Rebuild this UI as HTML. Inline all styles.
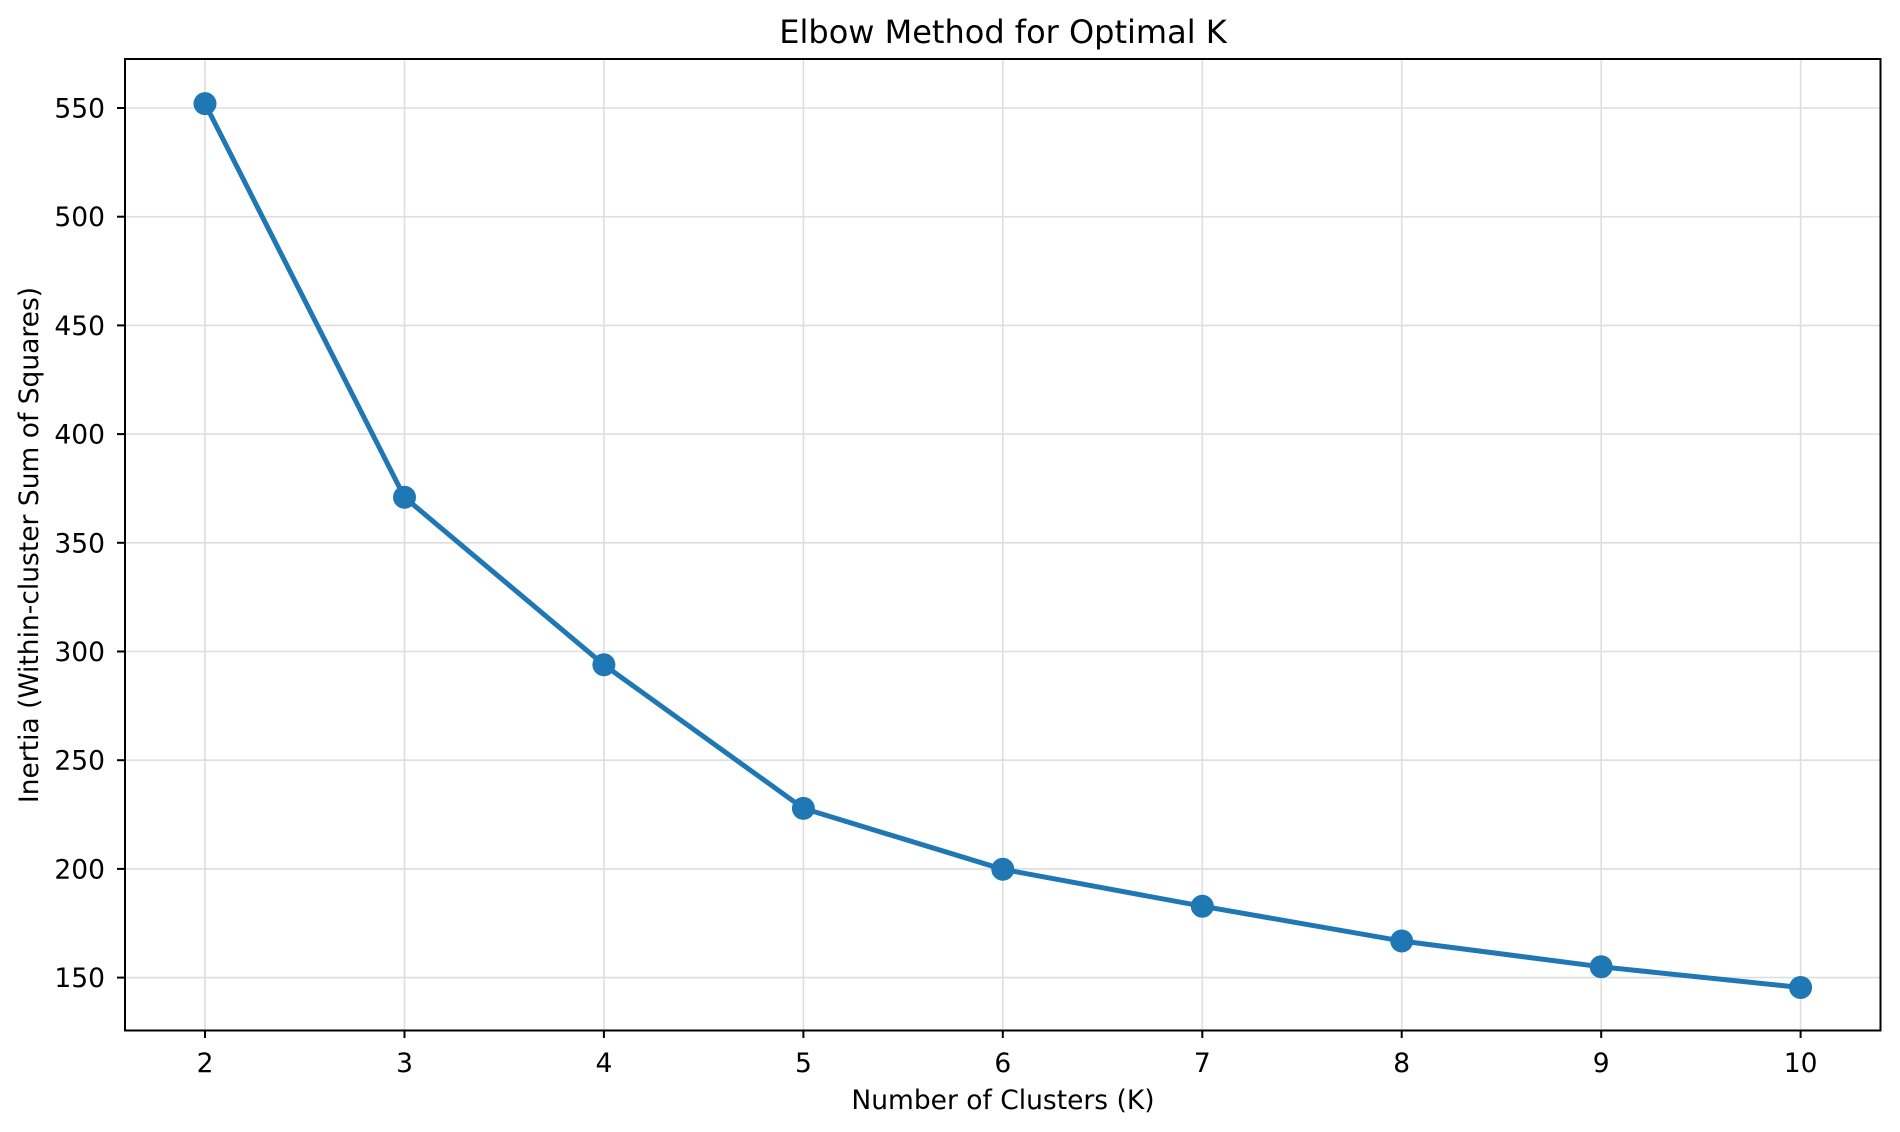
<!DOCTYPE html>
<html><head><meta charset="utf-8"><style>
html,body{margin:0;padding:0;background:#fff;}
svg{display:block;}
text{font-family:"DejaVu Sans","Liberation Sans",sans-serif;fill:#000;}
</style></head><body>
<svg width="1900" height="1132" viewBox="0 0 1900 1132" xmlns="http://www.w3.org/2000/svg">
<rect width="1900" height="1132" fill="#fff"/>
<g stroke="#dedede" stroke-width="1.6">
<line x1="205" y1="59" x2="205" y2="1030"/>
<line x1="404.5" y1="59" x2="404.5" y2="1030"/>
<line x1="603.9" y1="59" x2="603.9" y2="1030"/>
<line x1="803.4" y1="59" x2="803.4" y2="1030"/>
<line x1="1002.8" y1="59" x2="1002.8" y2="1030"/>
<line x1="1202.3" y1="59" x2="1202.3" y2="1030"/>
<line x1="1401.7" y1="59" x2="1401.7" y2="1030"/>
<line x1="1601.2" y1="59" x2="1601.2" y2="1030"/>
<line x1="1800.6" y1="59" x2="1800.6" y2="1030"/>
<line x1="125" y1="108" x2="1881" y2="108"/>
<line x1="125" y1="216.7" x2="1881" y2="216.7"/>
<line x1="125" y1="325.4" x2="1881" y2="325.4"/>
<line x1="125" y1="434.1" x2="1881" y2="434.1"/>
<line x1="125" y1="542.8" x2="1881" y2="542.8"/>
<line x1="125" y1="651.5" x2="1881" y2="651.5"/>
<line x1="125" y1="760.2" x2="1881" y2="760.2"/>
<line x1="125" y1="868.9" x2="1881" y2="868.9"/>
<line x1="125" y1="977.6" x2="1881" y2="977.6"/>
</g>
<polyline fill="none" stroke="#1f77b4" stroke-width="5" stroke-linejoin="round" points="205,103.6 404.5,497.3 603.9,664.8 803.4,808.4 1002.8,869.3 1202.3,906.2 1401.7,941 1601.2,966.8 1800.6,987.5"/>
<g fill="#1f77b4">
<circle cx="205" cy="103.6" r="11.5"/><circle cx="404.5" cy="497.3" r="11.5"/><circle cx="603.9" cy="664.8" r="11.5"/><circle cx="803.4" cy="808.4" r="11.5"/><circle cx="1002.8" cy="869.3" r="11.5"/><circle cx="1202.3" cy="906.2" r="11.5"/><circle cx="1401.7" cy="941" r="11.5"/><circle cx="1601.2" cy="966.8" r="11.5"/><circle cx="1800.6" cy="987.5" r="11.5"/>
</g>
<rect x="125" y="59" width="1755.5" height="971.5" fill="none" stroke="#000" stroke-width="2"/>
<g stroke="#000" stroke-width="2">
<line x1="205" y1="1030" x2="205" y2="1038"/><line x1="404.5" y1="1030" x2="404.5" y2="1038"/><line x1="603.9" y1="1030" x2="603.9" y2="1038"/><line x1="803.4" y1="1030" x2="803.4" y2="1038"/><line x1="1002.8" y1="1030" x2="1002.8" y2="1038"/><line x1="1202.3" y1="1030" x2="1202.3" y2="1038"/><line x1="1401.7" y1="1030" x2="1401.7" y2="1038"/><line x1="1601.2" y1="1030" x2="1601.2" y2="1038"/><line x1="1800.6" y1="1030" x2="1800.6" y2="1038"/>
<line x1="117" y1="108" x2="125" y2="108"/><line x1="117" y1="216.7" x2="125" y2="216.7"/><line x1="117" y1="325.4" x2="125" y2="325.4"/><line x1="117" y1="434.1" x2="125" y2="434.1"/><line x1="117" y1="542.8" x2="125" y2="542.8"/><line x1="117" y1="651.5" x2="125" y2="651.5"/><line x1="117" y1="760.2" x2="125" y2="760.2"/><line x1="117" y1="868.9" x2="125" y2="868.9"/><line x1="117" y1="977.6" x2="125" y2="977.6"/>
</g>
<g font-size="26.5" text-anchor="middle">
<text x="205" y="1072">2</text><text x="404.5" y="1072">3</text><text x="603.9" y="1072">4</text><text x="803.4" y="1072">5</text><text x="1002.8" y="1072">6</text><text x="1202.3" y="1072">7</text><text x="1401.7" y="1072">8</text><text x="1601.2" y="1072">9</text><text x="1800.6" y="1072">10</text>
</g>
<g font-size="26.5" text-anchor="end">
<text x="105" y="117.5">550</text><text x="105" y="226.2">500</text><text x="105" y="334.9">450</text><text x="105" y="443.6">400</text><text x="105" y="552.3">350</text><text x="105" y="661">300</text><text x="105" y="769.7">250</text><text x="105" y="878.4">200</text><text x="105" y="987.1">150</text>
</g>
<text x="1003" y="1109" font-size="26.5" text-anchor="middle">Number of Clusters (K)</text>
<text transform="translate(38,545) rotate(-90)" font-size="26.5" text-anchor="middle">Inertia (Within-cluster Sum of Squares)</text>
<text x="1003" y="43" font-size="32" text-anchor="middle">Elbow Method for Optimal K</text>
</svg>
</body></html>
